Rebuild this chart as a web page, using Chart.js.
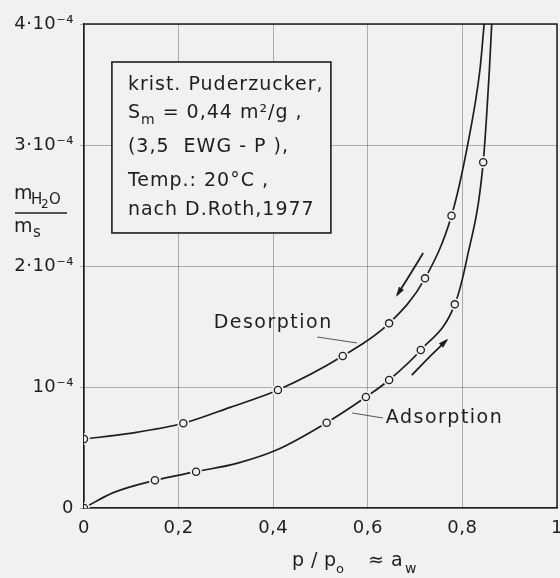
<!DOCTYPE html>
<html><head><meta charset="utf-8">
<script src="https://cdn.jsdelivr.net/npm/chart.js@4"></script>
<style>html,body{margin:0;padding:0;background:#f1f1ef}#wrap{width:560px;height:578px}</style>
</head><body><div id="wrap"><canvas id="c" width="560" height="578"></canvas></div>
<script>
// values of m_H2O/m_s in units of 10^-4, x = p/p0 = a_w
const xTickLabels = ['0', '0,2', '0,4', '0,6', '0,8', '1'];
const yTickLabels = ['0', '10⁻⁴', '2·10⁻⁴', '3·10⁻⁴', '4·10⁻⁴'];

const desorptionX = [0, 0.21, 0.41, 0.547, 0.645, 0.721, 0.777];
const desorptionY = [0.57, 0.70, 0.975, 1.256, 1.526, 1.898, 2.416];
const desorptionCurveX = [0, 0.097, 0.21, 0.309, 0.41, 0.547, 0.645, 0.721, 0.777, 0.812, 0.837, 0.846];
const desorptionCurveY = [0.57, 0.617, 0.70, 0.832, 0.975, 1.256, 1.526, 1.898, 2.416, 3.02, 3.62, 4.0];

const adsorptionX = [0, 0.150, 0.237, 0.513, 0.596, 0.645, 0.712, 0.784, 0.844];
const adsorptionY = [0, 0.229, 0.30, 0.705, 0.917, 1.058, 1.306, 1.683, 2.857];
const adsorptionCurveX = [0, 0.062, 0.150, 0.237, 0.323, 0.407, 0.513, 0.596, 0.645, 0.712, 0.784, 0.809, 0.844, 0.857, 0.862];
const adsorptionCurveY = [0, 0.127, 0.229, 0.30, 0.369, 0.479, 0.705, 0.917, 1.058, 1.306, 1.683, 2.05, 2.857, 3.62, 4.0];

const boxLines = ['krist. Puderzucker,', 'S|m| = 0,44 m²/g ,', '(3,5  EWG - P ),', 'Temp.: 20°C ,', 'nach D.Roth,1977'];

const pts = (xs, ys) => xs.map((x, i) => ({x: x, y: ys[i]}));
const INK = '#1e1e1e';
const BG = '#f1f1ef';
const FONT = '"DejaVu Sans", sans-serif';

const decor = {
  id: 'decor',
  beforeDraw(chart) {
    const ctx = chart.ctx;
    ctx.save();
    ctx.fillStyle = BG;
    ctx.fillRect(0, 0, chart.width, chart.height);
    ctx.restore();
    ctx.letterSpacing = '0.5px';
  },
  afterDraw(chart) {
    const ctx = chart.ctx;
    const xs = chart.scales.x, ys = chart.scales.y;
    const P = (x, y) => [xs.getPixelForValue(x), ys.getPixelForValue(y)];
    const a = chart.chartArea;
    ctx.save();
    // top & right frame
    ctx.strokeStyle = INK; ctx.lineWidth = 1.5;
    ctx.beginPath();
    ctx.moveTo(a.left, a.top); ctx.lineTo(a.right, a.top); ctx.lineTo(a.right, a.bottom);
    ctx.stroke();

    // info box
    const b0 = P(0.059, 3.686), b1 = P(0.522, 2.273);
    ctx.fillStyle = BG;
    ctx.fillRect(b0[0], b0[1], b1[0] - b0[0], b1[1] - b0[1]);
    ctx.strokeStyle = INK; ctx.lineWidth = 1.6;
    ctx.strokeRect(b0[0], b0[1], b1[0] - b0[0], b1[1] - b0[1]);
    ctx.fillStyle = INK;
    ctx.textBaseline = 'alphabetic'; ctx.textAlign = 'left';
    ctx.letterSpacing = '1px';
    const tx = b0[0] + 16;
    const base = [b0[1] + 28, b0[1] + 56, b0[1] + 90, b0[1] + 124, b0[1] + 153];
    ctx.font = '19px ' + FONT;
    ctx.fillText(boxLines[0], tx, base[0]);
    const l2 = boxLines[1].split('|');
    let cx = tx;
    ctx.font = '19px ' + FONT; ctx.fillText(l2[0], cx, base[1]); cx += ctx.measureText(l2[0]).width;
    ctx.font = '14px ' + FONT; ctx.fillText(l2[1], cx, base[1] + 6); cx += ctx.measureText(l2[1]).width;
    ctx.font = '19px ' + FONT; ctx.fillText(l2[2], cx, base[1]);
    ctx.fillText(boxLines[2], tx, base[2]);
    ctx.fillText(boxLines[3], tx, base[3]);
    ctx.fillText(boxLines[4], tx, base[4]);

    // curve labels
    ctx.font = '19px ' + FONT;
    ctx.letterSpacing = '1.5px';
    let p = P(0.40, 1.53);
    ctx.textAlign = 'center'; ctx.textBaseline = 'middle';
    ctx.fillText('Desorption', p[0], p[1]);
    p = P(0.638, 0.744);
    ctx.textAlign = 'left';
    ctx.fillText('Adsorption', p[0], p[1]);
    ctx.letterSpacing = '0px';

    // leader lines
    ctx.strokeStyle = '#555'; ctx.lineWidth = 1;
    const line = (x0, y0, x1, y1) => { const s = P(x0, y0), e = P(x1, y1); ctx.beginPath(); ctx.moveTo(s[0], s[1]); ctx.lineTo(e[0], e[1]); ctx.stroke(); };
    line(0.493, 1.413, 0.577, 1.364);
    line(0.567, 0.785, 0.632, 0.744);

    // arrows
    const arrow = (x0, y0, xm, ym, x1, y1) => {
      const s = P(x0, y0), m = P(xm, ym), e = P(x1, y1);
      const c = [2 * m[0] - (s[0] + e[0]) / 2, 2 * m[1] - (s[1] + e[1]) / 2];
      ctx.strokeStyle = INK; ctx.lineWidth = 1.8;
      ctx.beginPath(); ctx.moveTo(s[0], s[1]); ctx.quadraticCurveTo(c[0], c[1], e[0], e[1]); ctx.stroke();
      const ang = Math.atan2(e[1] - c[1], e[0] - c[0]);
      const L = 8, W = 3;
      ctx.fillStyle = INK;
      ctx.beginPath();
      ctx.moveTo(e[0] + Math.cos(ang) * 2, e[1] + Math.sin(ang) * 2);
      ctx.lineTo(e[0] - Math.cos(ang) * L + Math.sin(ang) * W, e[1] - Math.sin(ang) * L - Math.cos(ang) * W);
      ctx.lineTo(e[0] - Math.cos(ang) * L - Math.sin(ang) * W, e[1] - Math.sin(ang) * L + Math.cos(ang) * W);
      ctx.closePath(); ctx.fill();
    };
    arrow(0.717, 2.107, 0.691, 1.94, 0.662, 1.76);
    arrow(0.693, 1.099, 0.730, 1.248, 0.767, 1.388);

    // y-axis title: m_H2O / m_s
    ctx.fillStyle = INK; ctx.textAlign = 'left'; ctx.textBaseline = 'alphabetic';
    ctx.font = '19px ' + FONT; ctx.fillText('m', 14, 199);
    ctx.font = '15px ' + FONT; ctx.fillText('H', 31, 204);
    ctx.font = '12px ' + FONT; ctx.fillText('2', 41, 208);
    ctx.font = '15px ' + FONT; ctx.fillText('O', 49, 204);
    ctx.strokeStyle = INK; ctx.lineWidth = 1.6;
    ctx.beginPath(); ctx.moveTo(15, 213); ctx.lineTo(67, 213); ctx.stroke();
    ctx.font = '19px ' + FONT; ctx.fillText('m', 14, 232);
    ctx.font = '15px ' + FONT; ctx.fillText('s', 33, 237);

    // x-axis title: p / p_o ≈ a_w
    ctx.font = '19px ' + FONT;
    ctx.fillText('p', 292, 566);
    ctx.fillText('/', 311, 566);
    ctx.fillText('p', 324, 566);
    ctx.font = '13px ' + FONT; ctx.fillText('o', 336, 573);
    ctx.font = '19px ' + FONT; ctx.fillText('≈', 368, 566);
    ctx.fillText('a', 391, 566);
    ctx.font = '14px ' + FONT; ctx.fillText('w', 405, 573);
    ctx.restore();
  }
};

const curveStyle = {showLine: true, pointRadius: 0, borderColor: INK, borderWidth: 1.7, cubicInterpolationMode: 'monotone', fill: false, order: 3};
const maskStyle = {showLine: false, pointRadius: 6, pointBackgroundColor: BG, pointBorderWidth: 0, pointBorderColor: BG, order: 2};
const ringStyle = {showLine: false, pointRadius: 3.6, pointBackgroundColor: BG, pointBorderColor: INK, pointBorderWidth: 1.3, order: 1};
const GRID = 'rgba(60,60,60,0.38)';

new Chart(document.getElementById('c'), {
  type: 'scatter',
  data: {
    datasets: [
      Object.assign({label: 'Desorption', data: pts(desorptionCurveX, desorptionCurveY)}, curveStyle),
      Object.assign({label: 'Adsorption', data: pts(adsorptionCurveX, adsorptionCurveY)}, curveStyle),
      Object.assign({label: 'D mask', data: pts(desorptionX, desorptionY)}, maskStyle),
      Object.assign({label: 'A mask', data: pts(adsorptionX, adsorptionY)}, maskStyle),
      Object.assign({label: 'D points', data: pts(desorptionX, desorptionY)}, ringStyle),
      Object.assign({label: 'A points', data: pts(adsorptionX, adsorptionY)}, ringStyle)
    ]
  },
  options: {
    responsive: false,
    animation: false,
    layout: {autoPadding: false, padding: {top: 24, right: 3, left: 0, bottom: 0}},
    plugins: {legend: {display: false}, tooltip: {enabled: false}},
    scales: {
      x: {
        type: 'linear', min: 0, max: 1,
        afterFit: s => { s.height = 70; s.paddingRight = 0; s.paddingLeft = 0; },
        ticks: {stepSize: 0.2, padding: 10, color: INK, font: {family: FONT, size: 18},
          callback: (v, i) => xTickLabels[i]},
        grid: {color: GRID, lineWidth: 1, tickLength: 0},
        border: {display: true, color: INK, width: 1.6}
      },
      y: {
        type: 'linear', min: 0, max: 4,
        afterFit: s => { s.width = 84; s.paddingTop = 0; s.paddingBottom = 0; },
        ticks: {stepSize: 1, padding: 6, color: INK, font: {family: FONT, size: 18},
          callback: (v, i) => yTickLabels[i]},
        grid: {color: GRID, lineWidth: 1, tickLength: 4},
        border: {display: true, color: INK, width: 1.6}
      }
    }
  },
  plugins: [decor]
});
</script>
</body></html>
